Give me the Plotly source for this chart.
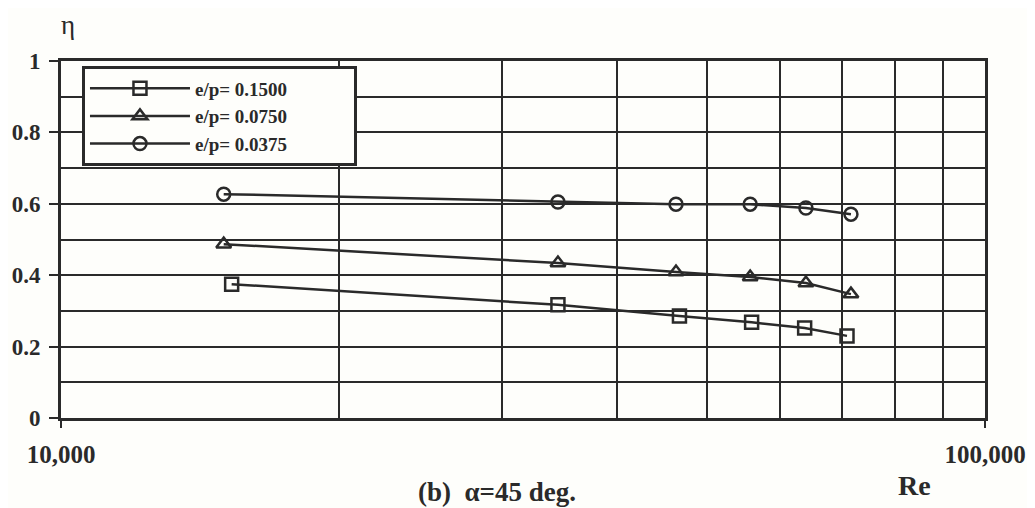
import plotly.graph_objects as go

# Data
re_sq = [15300, 34500, 46700, 55900, 63800, 70900]
eta_sq = [0.375, 0.317, 0.286, 0.268, 0.252, 0.230]

re_tri = [15000, 34500, 46300, 55700, 64000, 71600]
eta_tri = [0.487, 0.434, 0.409, 0.395, 0.378, 0.347]

re_cir = [15000, 34500, 46300, 55700, 64000, 71600]
eta_cir = [0.627, 0.605, 0.599, 0.599, 0.588, 0.571]

series_names = ["e/p= 0.1500", "e/p= 0.0750", "e/p= 0.0375"]

x_major = [10000, 100000]
x_major_text = ["10,000", "100,000"]
x_grid = [20000, 30000, 40000, 50000, 60000, 70000, 80000, 90000]
y_major = [0, 0.2, 0.4, 0.6, 0.8, 1]
y_major_text = ["0", "0.2", "0.4", "0.6", "0.8", "1"]
y_grid = [0.1, 0.3, 0.5, 0.7, 0.9]

INK = "#2a2a2a"
BG = "#fefefb"
SERIF = "Liberation Serif, Times New Roman, serif"
PAD = "\u00a0" * 13  # trailing room inside the legend frame

fig = go.Figure()
for xs, ys, name, sym in [
    (re_sq, eta_sq, series_names[0], "square-open"),
    (re_tri, eta_tri, series_names[1], "triangle-up-open"),
    (re_cir, eta_cir, series_names[2], "circle-open"),
]:
    fig.add_trace(go.Scatter(
        x=xs, y=ys, name=name + PAD, mode="lines+markers",
        line=dict(color=INK, width=2.5),
        marker=dict(symbol=sym, size=13, color=INK, line=dict(color=INK, width=2.5)),
    ))

# page body adds an 8px offset; figure is sized/margined to compensate
fig.update_layout(
    width=1027, height=500,
    margin=dict(l=53, r=50, t=53, b=90, autoexpand=False),
    paper_bgcolor=BG, plot_bgcolor=BG,
    font=dict(family=SERIF, color=INK),
    showlegend=True,
    legend=dict(
        x=0.0227, y=0.985, xanchor="left", yanchor="top",
        bgcolor=BG, bordercolor=INK, borderwidth=3,
        font=dict(family=SERIF, size=19, color=INK, weight="bold"),
        itemwidth=100,
        tracegroupgap=0,
    ),
)

fig.update_xaxes(
    type="log", range=[4, 5], automargin=False,
    tickmode="array", tickvals=x_major, ticktext=x_major_text,
    tickfont=dict(family=SERIF, size=25, color=INK, weight="bold"),
    ticks="outside", ticklen=7, tickwidth=2, tickcolor=INK,
    ticklabelstandoff=5,
    showgrid=False,
    minor=dict(tickmode="array", tickvals=x_grid, showgrid=True,
               gridcolor=INK, gridwidth=1.5, ticks=""),
    showline=True, linecolor=INK, linewidth=3, mirror=True,
    zeroline=False,
)
fig.update_yaxes(
    range=[0, 1], automargin=False,
    tickmode="array", tickvals=y_major, ticktext=y_major_text,
    tickfont=dict(family=SERIF, size=23, color=INK, weight="bold"),
    ticks="outside", ticklen=9, tickwidth=2, tickcolor=INK,
    ticklabelstandoff=4,
    showgrid=True, gridcolor=INK, gridwidth=1.5,
    minor=dict(tickmode="array", tickvals=y_grid, showgrid=True,
               gridcolor=INK, gridwidth=1.5, ticks=""),
    showline=True, linecolor=INK, linewidth=3, mirror=True,
    zeroline=False,
)

fig.add_annotation(text="η", xref="paper", yref="paper", x=0.008, y=1.0,
                   xanchor="center", yanchor="middle", yshift=36, showarrow=False,
                   font=dict(family=SERIF, size=27, color=INK))
fig.add_annotation(text="(b)  α=45 deg.", xref="paper", yref="paper", x=0.472, y=0,
                   xanchor="center", yanchor="middle", yshift=-74, showarrow=False,
                   font=dict(family=SERIF, size=27, color=INK, weight="bold"))
fig.add_annotation(text="Re", xref="paper", yref="paper", x=0.924, y=0,
                   xanchor="center", yanchor="middle", yshift=-67, showarrow=False,
                   font=dict(family=SERIF, size=28, color=INK, weight="bold"))

fig.write_html("out.html")
